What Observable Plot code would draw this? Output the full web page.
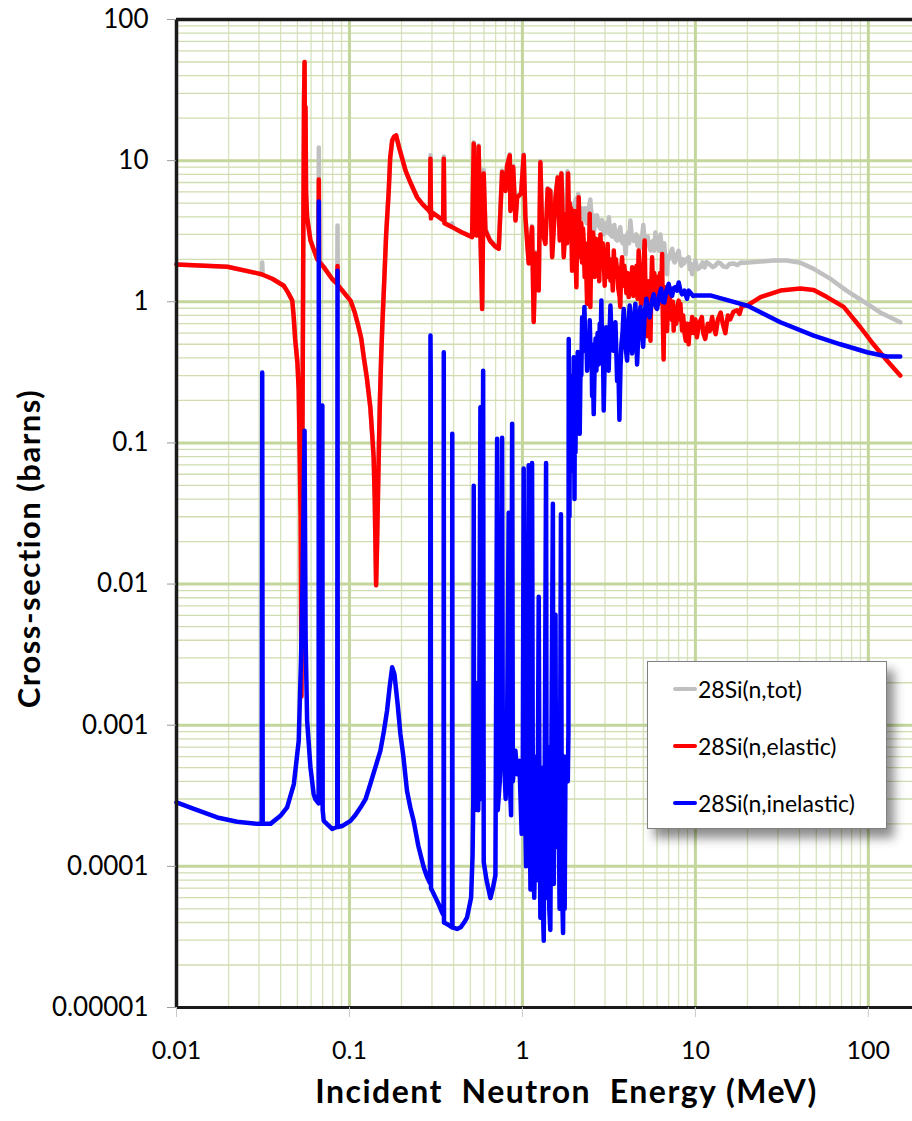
<!DOCTYPE html>
<html><head><meta charset="utf-8">
<script src="https://cdn.jsdelivr.net/npm/d3@7"></script>
<script src="https://cdn.jsdelivr.net/npm/@observablehq/plot@0.6"></script>
<style>
html,body{margin:0;padding:0;background:#fff;}
#wrap{position:relative;width:912px;height:1121px;overflow:hidden;}
#wrap svg text{white-space:pre;}
#legend{position:absolute;left:647px;top:661px;width:238px;height:166px;background:#fff;border:1px solid #7f7f7f;box-shadow:7px 9px 10px rgba(0,0,0,0.45);font-family:Lato,"Open Sans",sans-serif;font-size:23px;color:#000;}
.row{position:absolute;left:25px;height:26px;display:flex;align-items:center;}
.sw{width:24px;height:4px;margin-right:1px;border-radius:2px;}
</style></head>
<body><div id="wrap"><div id="legend"></div></div>
<script>
// ---- axis ticks and labels ----
const xMajor = [0.01, 0.1, 1, 10, 100];
const xLabels = ["0.01", "0.1", "1", "10", "100"];
const xMinor = [0.02,0.03,0.04,0.05,0.06,0.07,0.08,0.09,0.2,0.3,0.4,0.5,0.6,0.7,0.8,0.9,2,3,4,5,6,7,8,9,20,30,40,50,60,70,80,90];
const yMajor = [1e-5, 1e-4, 1e-3, 1e-2, 1e-1, 1, 10, 100];
const yLabels = ["0.00001", "0.0001", "0.001", "0.01", "0.1", "1", "10", "100"];
const yMinor = [2e-5,3e-5,4e-5,5e-5,6e-5,7e-5,8e-5,9e-5,2e-4,3e-4,4e-4,5e-4,6e-4,7e-4,8e-4,9e-4,2e-3,3e-3,4e-3,5e-3,6e-3,7e-3,8e-3,9e-3,0.02,0.03,0.04,0.05,0.06,0.07,0.08,0.09,0.2,0.3,0.4,0.5,0.6,0.7,0.8,0.9,2,3,4,5,6,7,8,9,20,30,40,50,60,70,80,90];

// ---- series names ----
const seriesNames = ["28Si(n,tot)", "28Si(n,elastic)", "28Si(n,inelastic)"];
const seriesColors = ["#c0c0c0", "#ff0000", "#0000ff"];

// ---- total cross-section [MeV, barns] ----
const total = [
[0.01,1.84],[0.0197,1.77],[0.0295,1.59],[0.0311,1.57],[0.0313,1.9],[0.0315,1.56],[0.036,1.45],[0.0417,1.30],[0.044,1.17],[0.0467,1.02],[0.0476,0.78],[0.0485,0.55],[0.050,0.38],[0.0509,0.24],[0.0522,0.03],[0.0528,0.0018],[0.0534,0.08],[0.0541,3.0],[0.0546,25],[0.0550,50],[0.0553,12],[0.0557,24],[0.0561,6],[0.0569,4.0],[0.0595,2.75],[0.065,2.03],[0.0662,1.98],[0.0665,12.4],[0.0668,1.95],[0.071,1.78],[0.0794,1.46],[0.0850,1.35],[0.0853,3.47],[0.0857,1.32],[0.1014,1.02],[0.107,0.85],[0.113,0.66],[0.117,0.55],[0.121,0.405],[0.126,0.29],[0.132,0.179],[0.135,0.12],[0.138,0.079],[0.140,0.04],[0.1426,0.0098],[0.1445,0.02],[0.146,0.04],[0.1476,0.079],[0.150,0.2],[0.1525,0.405],[0.155,0.7],[0.158,1.2],[0.163,3.0],[0.1687,6.14],[0.172,10.5],[0.1766,13.9],[0.181,14.8],[0.186,15.1],[0.195,12],[0.211,8.5],[0.225,7.0],[0.246,5.5],[0.265,4.9],[0.288,4.43],[0.292,4.3],[0.294,10.9],[0.296,3.95],[0.300,4.3],[0.348,3.8],[0.351,10.7],[0.354,3.65],[0.392,3.4],[0.393,3.6],[0.395,3.35],[0.448,3.1],
[0.512,2.9],[0.523,13.5],[0.530,3.05],[0.545,3.0],[0.558,12.8],[0.570,3.55],[0.585,0.92],[0.597,8.6],[0.611,3.3],[0.65,2.75],[0.70,2.5],[0.73,2.42],[0.763,8.5],[0.798,6.2],[0.815,9.4],[0.845,11.1],[0.852,4.5],[0.884,9.2],[0.912,3.85],[0.932,5.6],[0.983,5.95],[1.017,11.1],[1.04,4.1],[1.087,1.92],[1.137,3.45],[1.162,0.74],[1.189,2.25],[1.216,1.92],[1.242,1.23],[1.27,9.9],[1.30,3.3],[1.358,2.65],[1.40,6.4],[1.45,6.2],[1.486,2.12],[1.553,5.6],[1.60,7.7],[1.644,2.8],[1.68,8.2],[1.733,2.2],[1.79,4.4],[1.82,8.4],
[1.86,4.5],[1.90,5.0],[1.94,3.5],[1.97,3.6],[2.0,4.8],[2.04,5.4],[2.07,4.0],[2.1,5.8],[2.13,4.2],[2.16,3.76],[2.2,4.6],[2.25,3.8],[2.3,4.6],[2.35,3.6],[2.40,4.4],[2.47,5.3],[2.52,3.8],[2.56,4.1],[2.6,3.2],[2.65,3.9],[2.7,4.1],[2.76,3.5],[2.82,3.3],[2.88,3.8],[2.95,3.0],[3.0,3.4],[3.05,3.6],[3.1,3.1],[3.16,3.97],[3.22,3.0],[3.3,2.9],[3.35,3.4],[3.4,3.5],[3.46,2.8],[3.53,2.72],[3.6,3.1],[3.68,3.38],[3.74,2.7],[3.8,2.6],[3.87,2.9],[3.95,2.18],[4.0,2.8],[4.08,3.1],[4.14,2.6],[4.21,3.76],[4.3,2.8],[4.4,2.7],[4.47,2.9],[4.55,3.0],[4.62,2.5],[4.70,2.87],[4.78,2.4],[4.85,2.5],[4.92,2.9],[5.0,3.5],[5.1,2.6],[5.2,2.6],[5.3,2.9],[5.4,2.5],[5.5,2.31],[5.6,2.6],[5.7,2.7],[5.78,2.3],[5.87,3.1],[5.96,2.4],[6.06,2.5],[6.17,2.3],[6.28,3.0],[6.4,2.3],[6.5,2.2],[6.6,2.6],[6.72,1.9],[6.86,1.57],[6.93,2.1],[7.0,2.0],[7.15,2.2],[7.35,2.37],[7.5,1.95],[7.6,1.9],[7.72,2.1],[7.85,2.18],[8.0,2.3],[8.15,1.9],[8.3,1.8],[8.45,2.0],[8.59,1.87],[8.75,1.95],[8.9,2.0],[9.14,2.07],[9.3,1.7],[9.45,1.85],[9.57,1.57],[9.7,1.8],[9.8,1.75],[10.0,1.96],[10.3,1.7],[10.7,1.76],[11.0,1.9],[11.3,1.75],[11.6,1.91],[12.0,1.85],[12.6,1.76],[13.0,1.8],[13.5,1.9],[14.0,1.87],[14.5,1.78],[15.2,1.76],[15.7,1.85],[16.6,1.87],[17.5,1.82],[18.3,1.9],[19.2,1.89],[21.8,1.91],[28.4,1.96],[33.8,1.96],[40.5,1.89],[48.3,1.71],[61.1,1.44],[74.7,1.2],[94.5,1.0],[117,0.84],[153,0.716]
];

// ---- elastic cross-section [MeV, barns] ----
const elastic = [
[0.01,1.84],[0.0197,1.77],[0.0295,1.59],[0.0313,1.56],[0.036,1.45],[0.0417,1.30],[0.044,1.17],[0.0467,1.02],[0.0476,0.78],[0.0485,0.55],[0.050,0.37],[0.0509,0.235],[0.0522,0.03],[0.0528,0.0016],[0.0534,0.08],[0.0541,3.0],[0.0546,25],[0.0550,50],[0.0553,12],[0.0557,24],[0.0561,6],[0.0569,3.97],[0.0595,2.72],[0.065,2.01],[0.0662,1.96],[0.0665,7.35],[0.0668,1.92],[0.071,1.76],[0.0794,1.45],[0.0850,1.34],[0.0853,1.79],[0.0857,1.31],[0.1014,1.02],[0.107,0.85],[0.113,0.66],[0.117,0.55],[0.121,0.405],[0.126,0.29],[0.132,0.179],[0.135,0.12],[0.138,0.079],[0.140,0.04],[0.1426,0.0098],[0.1445,0.02],[0.146,0.04],[0.1476,0.079],[0.150,0.2],[0.1525,0.405],[0.155,0.7],[0.158,1.2],[0.163,3.0],[0.1687,6.14],[0.172,10.5],[0.1766,13.9],[0.181,14.8],[0.186,15.1],[0.195,12],[0.211,8.5],[0.225,7.0],[0.246,5.5],[0.265,4.9],[0.288,4.43],[0.292,4.3],[0.294,10.3],[0.296,3.9],[0.300,4.3],[0.348,3.78],[0.351,10.3],[0.354,3.6],[0.393,3.38],[0.448,3.1],
[0.512,2.87],[0.523,13.2],[0.530,3.0],[0.545,2.95],[0.558,12.6],[0.570,3.5],[0.585,0.89],[0.597,8.1],[0.611,3.2],[0.65,2.7],[0.70,2.45],[0.73,2.37],[0.763,8.3],[0.798,6.1],[0.815,9.2],[0.845,10.9],[0.852,4.4],[0.884,9.0],[0.912,3.76],[0.932,5.5],[0.983,5.84],[1.017,10.9],[1.04,4.0],[1.087,1.87],[1.137,3.38],[1.162,0.72],[1.189,2.2],[1.216,1.87],[1.242,1.2],[1.27,9.75],[1.30,3.2],[1.358,2.57],[1.40,6.3],[1.45,6.1],[1.486,2.07],[1.553,5.5],[1.60,7.6],[1.644,2.72],[1.68,8.1],[1.733,2.07],[1.79,4.2],
[1.81,2.6],[1.838,8.1],[1.86,3.0],[1.875,5.0],[1.894,3.2],[1.91,4.6],[1.937,1.66],[1.96,3.3],[1.98,2.4],[2.0,4.4],[2.02,2.6],[2.052,1.27],[2.07,3.0],[2.09,2.2],[2.115,5.5],[2.14,3.0],[2.163,2.07],[2.19,3.6],[2.21,1.9],[2.24,3.3],[2.26,2.72],[2.29,1.5],[2.32,2.4],[2.366,0.97],[2.39,2.6],[2.42,1.8],[2.45,4.2],[2.47,0.92],[2.50,2.5],[2.53,1.6],[2.56,3.1],[2.584,2.72],[2.62,1.5],[2.66,2.8],[2.70,1.76],[2.74,2.3],[2.78,1.4],[2.825,3.0],[2.87,1.8],[2.91,2.6],[2.95,2.07],[2.99,1.3],[3.04,2.2],[3.08,1.6],[3.11,2.57],[3.15,1.5],[3.19,2.0],[3.23,1.41],[3.28,1.9],[3.33,1.2],[3.375,2.31],[3.42,1.5],[3.47,2.0],[3.53,1.66],[3.58,1.25],[3.65,1.08],[3.68,0.92],[3.72,1.7],[3.77,2.07],[3.82,1.3],[3.88,1.8],[3.94,1.49],[3.99,1.15],[4.05,1.6],[4.12,1.08],[4.18,1.5],[4.25,1.2],[4.31,1.76],[4.38,1.1],[4.44,1.5],[4.50,1.2],[4.57,1.8],[4.63,1.05],[4.70,2.31],[4.78,1.4],[4.85,0.95],[4.92,1.27],[5.0,1.6],[5.09,2.72],[5.15,1.1],[5.26,0.57],[5.33,1.4],[5.40,1.2],[5.50,0.53],[5.56,1.3],[5.62,2.07],[5.7,1.1],[5.78,1.6],[5.87,1.41],[5.95,0.9],[6.05,1.5],[6.14,0.97],[6.25,1.6],[6.34,1.0],[6.42,2.18],[6.48,0.8],[6.55,0.39],[6.6,0.9],[6.65,1.27],[6.75,0.8],[6.86,0.62],[6.95,1.0],[7.08,1.27],[7.2,0.8],[7.33,0.74],[7.41,1.0],[7.49,0.625],[7.6,0.9],[7.75,0.7],[7.9,0.95],[8.01,1.02],[8.1,0.75],[8.19,0.97],[8.38,0.625],[8.5,0.8],[8.65,0.6],[8.8,0.53],[8.95,0.7],[9.14,0.50],[9.3,0.7],[9.45,0.6],[9.57,0.78],[9.8,0.6],[10.0,0.75],[10.2,0.56],[10.5,0.7],[10.9,0.78],[11.1,0.6],[11.4,0.545],[11.8,0.7],[12.1,0.62],[12.5,0.78],[12.8,0.65],[13.1,0.59],[13.5,0.75],[14.0,0.84],[14.4,0.7],[14.9,0.6],[15.4,0.8],[15.9,0.75],[16.6,0.85],[17.4,0.87],[18.0,0.82],[18.6,0.94],[19.9,0.94],[23.8,1.08],[31.0,1.2],[40.5,1.24],[48.3,1.21],[57.7,1.08],[72.0,0.92],[90.0,0.66],[107,0.50],[128,0.383],[153,0.30]
];

// ---- inelastic cross-section [MeV, barns] ----
const inelastic = [
[0.01,0.000284],[0.0126,0.000255],[0.0172,0.000222],[0.0224,0.000207],[0.0293,0.0002],[0.0311,0.0002],[0.0313,0.315],[0.0315,0.0002],[0.0349,0.0002],[0.0399,0.000228],[0.0436,0.000262],[0.0477,0.000383],[0.0509,0.000776],[0.0525,0.003],[0.0535,0.01],[0.0543,0.037],[0.0550,0.122],[0.0554,0.02],[0.0558,0.004],[0.0569,0.00108],[0.0595,0.000502],[0.0621,0.000325],[0.0636,0.000298],[0.0663,0.00028],[0.0665,5.13],[0.0667,0.00028],[0.0680,0.00035],[0.0697,0.184],[0.0700,0.00025],[0.071,0.00021],[0.0794,0.000184],[0.0850,0.00019],[0.0853,1.66],[0.0856,0.00019],[0.0906,0.000193],[0.1014,0.00021],[0.108,0.00023],[0.116,0.000262],[0.124,0.0003],[0.132,0.000383],[0.141,0.0005],[0.151,0.00066],[0.158,0.0009],[0.165,0.00127],[0.171,0.0019],[0.1766,0.00257],[0.182,0.0023],[0.19,0.0014],[0.197,0.000867],[0.205,0.0006],[0.215,0.000344],[0.225,0.00026],[0.235,0.00021],[0.25,0.00014],[0.269,0.0000982],[0.28,0.000085],[0.292,0.000076],[0.294,0.576],[0.295,0.3],[0.296,0.00007],[0.314,0.0000603],[0.33,0.000053],[0.344,0.0000468],[0.350,0.000045],[0.351,0.439],[0.352,0.00004],[0.366,0.000039],[0.38,0.000038],[0.392,0.000037],[0.393,0.116],[0.394,0.000037],[0.419,0.000036],[0.44,0.000037],[0.46,0.00004],[0.478,0.0000433],
[0.505,0.00006],[0.515,0.00012],[0.520,0.0003],[0.523,0.0497],[0.525,0.0006],[0.530,0.00025],[0.535,0.002],[0.540,0.0003],[0.548,0.0005],[0.555,0.00025],[0.562,0.0007],[0.5717,0.179],[0.575,0.0003],[0.582,0.0005],[0.5928,0.325],[0.5975,0.000107],[0.62,0.00008],[0.653,0.0000596],[0.675,0.00007],[0.698,0.0000865],[0.714,0.107],[0.72,0.00025],[0.74,0.0004],[0.75,0.0008],[0.763,0.109],[0.77,0.0007],[0.78,0.00066],[0.80,0.0003],[0.815,0.0009],[0.833,0.032],[0.845,0.0004],[0.86,0.00023],[0.872,0.137],[0.88,0.0004],[0.911,0.00066],[0.93,0.00045],[0.96,0.00056],[0.99,0.00017],
[1.005,0.0005],[1.017,0.066],[1.03,0.0004],[1.05,0.0001],[1.065,0.00017],[1.087,0.0696],[1.10,0.0003],[1.113,0.0000686],[1.125,0.0008],[1.137,0.072],[1.15,0.0002],[1.17,0.00006],[1.189,0.00017],[1.205,0.0006],[1.22,0.00008],[1.242,0.00814],[1.255,0.0003],[1.27,0.0000433],[1.29,0.0005],[1.31,0.00006],[1.328,0.0000297],[1.345,0.0004],[1.37,0.072],[1.38,0.0002],[1.39,0.0000596],[1.41,0.0007],[1.43,0.00005],[1.45,0.0000354],[1.47,0.0006],[1.50,0.037],[1.51,0.0003],[1.518,0.000075],[1.535,0.0009],[1.553,0.00607],[1.565,0.0002],[1.587,0.000137],[1.61,0.0008],[1.64,0.00005],[1.67,0.0313],[1.685,0.0005],[1.70,0.00006],[1.718,0.0000337],[1.74,0.0006],[1.755,0.00005],[1.773,0.00047],[1.80,0.0005],[1.83,0.0004],[1.845,0.0009],
[1.852,0.545],[1.865,0.05],[1.87,0.03],[1.88,0.12],[1.89,0.2],[1.9,0.08],[1.912,0.0635],[1.93,0.25],[1.95,0.3],[1.965,0.12],[1.98,0.405],[1.99,0.15],[2.0,0.04],[2.01,0.2],[2.025,0.0855],[2.05,0.3],[2.07,0.2],[2.088,0.44],[2.11,0.25],[2.144,0.116],[2.17,0.4],[2.19,0.3],[2.214,0.776],[2.24,0.5],[2.26,0.6],[2.283,0.92],[2.31,0.45],[2.34,0.6],[2.366,0.325],[2.40,0.5],[2.42,0.4],[2.45,0.74],[2.48,0.4],[2.51,0.5],[2.529,0.215],[2.555,0.35],[2.583,0.16],[2.62,0.4],[2.65,0.55],[2.677,0.325],[2.72,0.6],[2.761,0.36],[2.80,0.7],[2.83,0.5],[2.861,1.02],[2.89,0.4],[2.92,0.5],[2.951,0.17],[2.99,0.4],[3.02,0.5],[3.047,0.66],[3.09,0.45],[3.12,0.55],[3.154,0.325],[3.19,0.6],[3.227,0.94],[3.27,0.6],[3.30,0.7],[3.345,0.45],[3.39,0.6],[3.449,0.716],[3.49,0.45],[3.528,0.275],[3.58,0.4],[3.638,0.146],[3.69,0.35],[3.736,0.50],[3.79,0.6],[3.851,0.89],[3.93,0.5],[4.03,0.383],[4.10,0.7],[4.17,0.94],[4.24,0.6],[4.307,0.43],[4.40,0.75],[4.50,0.97],[4.55,0.6],[4.603,0.36],[4.70,0.7],[4.81,0.92],[4.9,0.65],[4.986,0.48],[5.1,0.85],[5.21,1.05],[5.32,0.85],[5.44,0.776],[5.6,1.0],[5.74,1.13],[5.87,0.95],[6.006,0.89],[6.17,1.1],[6.34,1.24],[6.48,1.0],[6.62,0.99],[6.8,1.2],[7.01,1.34],[7.17,1.15],[7.33,1.10],[7.5,1.25],[7.66,1.27],[7.83,1.2],[8.01,1.37],[8.2,1.2],[8.38,1.13],[8.65,1.2],[8.95,1.05],[9.15,1.2],[9.36,1.16],[9.7,1.1],[10.0,1.11],[12.2,1.11],[19.9,0.94],[31.0,0.716],[48.3,0.576],[68.9,0.50],[98.3,0.439],[128,0.41],[153,0.41]
];

const font = "Lato, 'Open Sans', sans-serif";
const X = d => d[0], Y = d => d[1];

const chart = Plot.plot({
  width: 912, height: 1121,
  marginLeft: 176, marginRight: 0, marginTop: 19, marginBottom: 114,
  style: {fontFamily: font, color: "#000", background: "#fff"},
  x: {type: "log", domain: [0.01, 180]},
  y: {type: "log", domain: [1e-5, 100]},
  marks: [
    Plot.ruleX(xMinor, {stroke: "#d6e3bd", strokeWidth: 1.3}),
    Plot.ruleY(yMinor, {stroke: "#cfddb1", strokeWidth: 1.3}),
    Plot.ruleX(xMajor, {stroke: "#c3d69b", strokeWidth: 3}),
    Plot.ruleY(yMajor, {stroke: "#c3d69b", strokeWidth: 3}),
    Plot.line(total, {x: X, y: Y, stroke: seriesColors[0], strokeWidth: 4.5, strokeLinejoin: "round"}),
    Plot.line(elastic, {x: X, y: Y, stroke: seriesColors[1], strokeWidth: 4.5, strokeLinejoin: "round"}),
    Plot.line(inelastic, {x: X, y: Y, stroke: seriesColors[2], strokeWidth: 4.5, strokeLinejoin: "round"}),
    Plot.ruleX([0.01], {stroke: "#1a1a1a", strokeWidth: 3.5}),
    Plot.ruleY([100], {stroke: "#1a1a1a", strokeWidth: 3.5}),
    Plot.ruleY([1e-5], {stroke: "#1a1a1a", strokeWidth: 3}),
    Plot.axisY(yMajor, {anchor: "left", tickSize: 9, tickPadding: 19, stroke: "#9a9a9a", fill: "#000", fontSize: 26, label: null,
      tickFormat: d => yLabels[yMajor.indexOf(d)]}),
    Plot.axisX(xMajor, {anchor: "bottom", tickSize: 10, tickPadding: 24, stroke: "#c8c8c8", fill: "#000", fontSize: 25, label: null,
      tickFormat: d => xLabels[xMajor.indexOf(d)]}),
    Plot.text(["Cross-section (barns)"], {frameAnchor: "left", textAnchor: "middle", dx: -146, dy: 35, rotate: -90, fontSize: 31, fontWeight: "bold", fill: "#000"}),
    Plot.text(["Incident  Neutron  Energy (MeV)"], {frameAnchor: "bottom", textAnchor: "middle", dx: 22, dy: 95, fontSize: 32, fontWeight: "bold", fill: "#000"})
  ]
});
chart.querySelectorAll("text").forEach(t => {
  if (t.textContent === "Cross-section (barns)" || t.textContent.startsWith("Incident")) t.style.letterSpacing = "1.5px";
});
document.getElementById("wrap").prepend(chart);

const legend = document.getElementById("legend");
const rowTops = [14, 71, 128];
seriesNames.forEach((name, i) => {
  const row = document.createElement("div");
  row.className = "row";
  row.style.top = rowTops[i] + "px";
  row.innerHTML = `<span class="sw" style="background:${seriesColors[i]}"></span><span>${name}</span>`;
  legend.appendChild(row);
});
</script>
</body></html>
